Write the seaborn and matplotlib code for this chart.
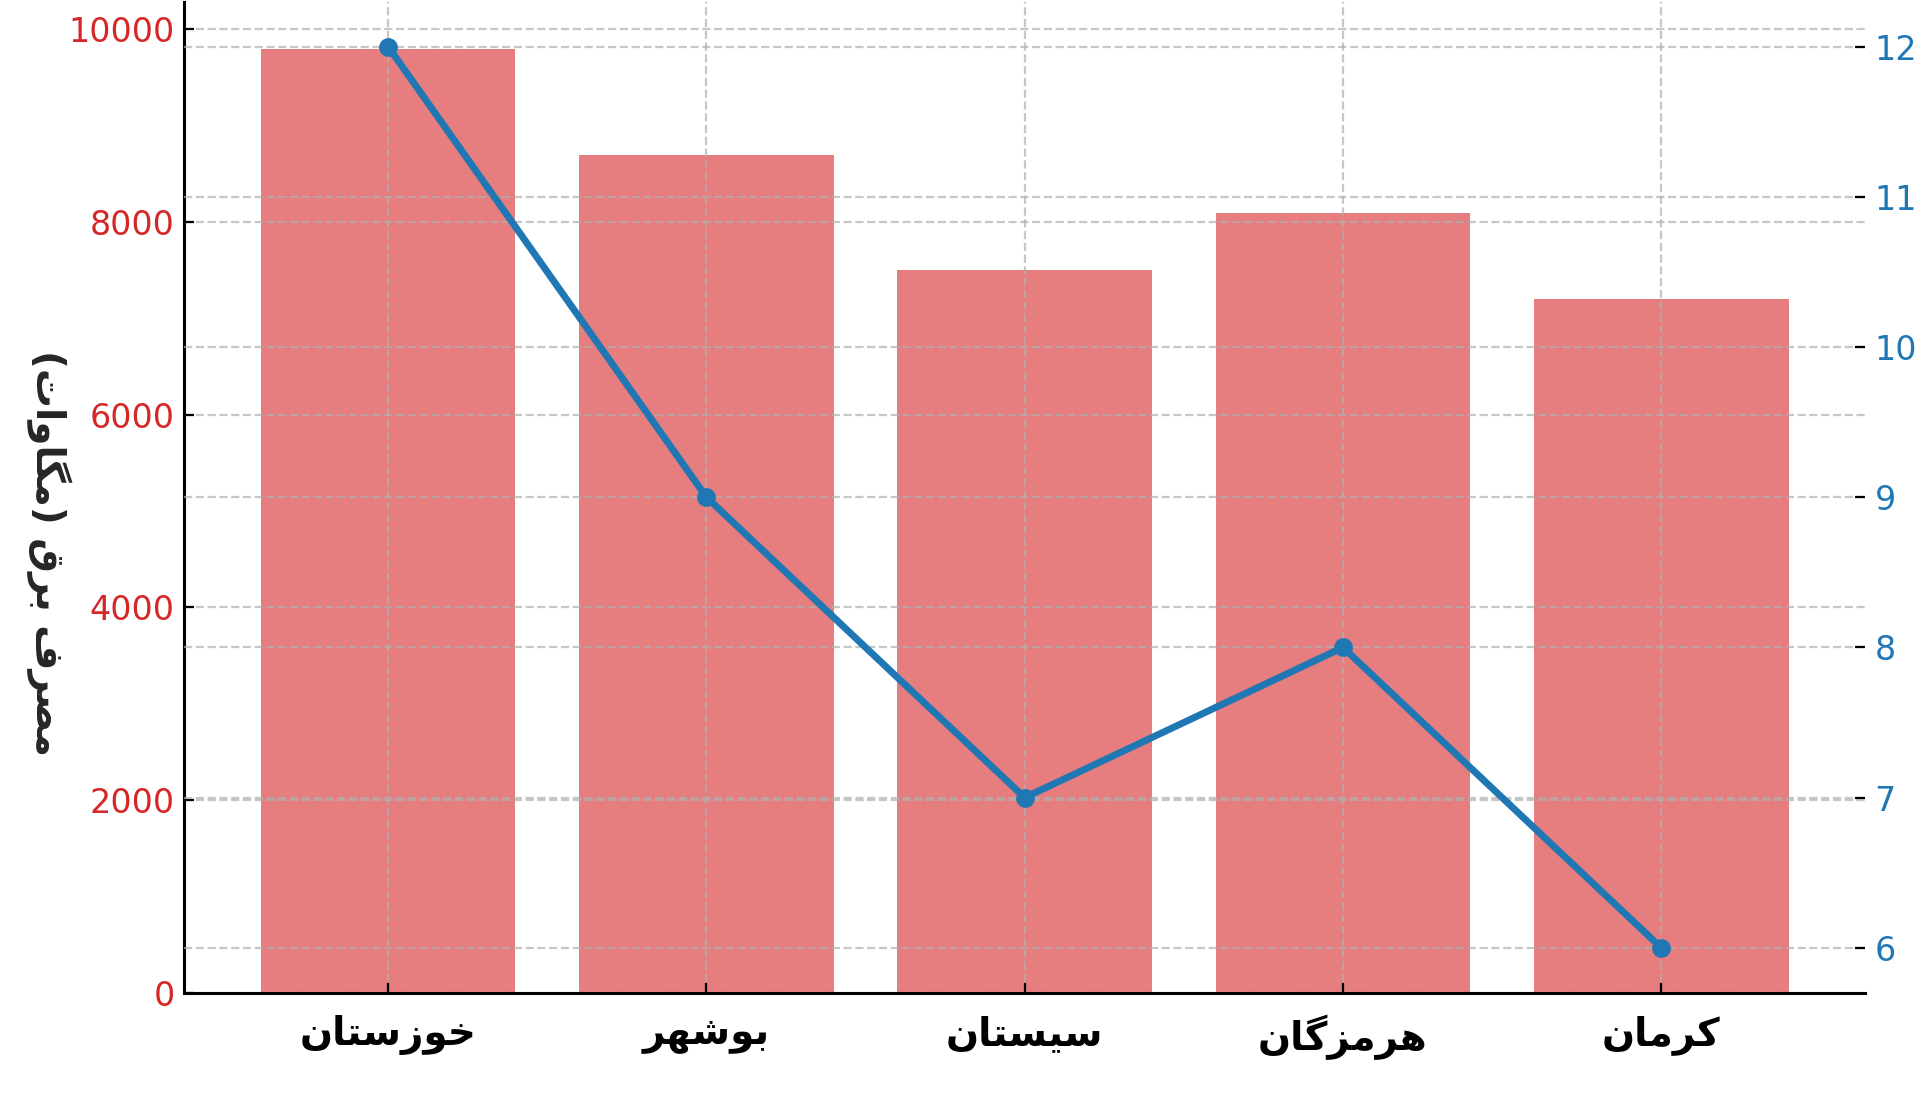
import numpy as np
import pandas as pd
import seaborn as sns
import matplotlib
matplotlib.use("Agg")
import matplotlib.pyplot as plt

provinces = ["خوزستان", "بوشهر", "سیستان", "هرمزگان", "کرمان"]
consumption = [9800, 8700, 7500, 8100, 7200]
temperature = [12, 9, 7, 8, 6]
left_label = "مصرف برق (مگاوات)"
left_ticks = [0, 2000, 4000, 6000, 8000, 10000]
right_ticks = [6, 7, 8, 9, 10, 11, 12]

# minimal arabic/persian shaping (isolated, final, initial, medial)
FORMS = {
    "ا": ("\uFE8D", "\uFE8E", None, None),
    "ب": ("\uFE8F", "\uFE90", "\uFE91", "\uFE92"),
    "ت": ("\uFE95", "\uFE96", "\uFE97", "\uFE98"),
    "خ": ("\uFEA5", "\uFEA6", "\uFEA7", "\uFEA8"),
    "ر": ("\uFEAD", "\uFEAE", None, None),
    "ز": ("\uFEAF", "\uFEB0", None, None),
    "س": ("\uFEB1", "\uFEB2", "\uFEB3", "\uFEB4"),
    "ش": ("\uFEB5", "\uFEB6", "\uFEB7", "\uFEB8"),
    "ص": ("\uFEB9", "\uFEBA", "\uFEBB", "\uFEBC"),
    "ف": ("\uFED1", "\uFED2", "\uFED3", "\uFED4"),
    "ق": ("\uFED5", "\uFED6", "\uFED7", "\uFED8"),
    "ک": ("\uFB8E", "\uFB8F", "\uFB90", "\uFB91"),
    "گ": ("\uFB92", "\uFB93", "\uFB94", "\uFB95"),
    "م": ("\uFEE1", "\uFEE2", "\uFEE3", "\uFEE4"),
    "ن": ("\uFEE5", "\uFEE6", "\uFEE7", "\uFEE8"),
    "ه": ("\uFEE9", "\uFEEA", "\uFEEB", "\uFEEC"),
    "و": ("\uFEED", "\uFEEE", None, None),
    "ی": ("\uFBFC", "\uFBFD", "\uFBFE", "\uFBFF"),
}
MIRROR = {"(": ")", ")": "("}


def shape(text):
    out = []
    for i, ch in enumerate(text):
        if ch not in FORMS:
            out.append(MIRROR.get(ch, ch))
            continue
        prev = text[i - 1] if i > 0 else ""
        nxt = text[i + 1] if i + 1 < len(text) else ""
        join_prev = prev in FORMS and FORMS[prev][2] is not None
        join_next = nxt in FORMS and FORMS[ch][2] is not None
        iso, fin, ini, med = FORMS[ch]
        if join_prev and join_next:
            out.append(med)
        elif join_prev:
            out.append(fin)
        elif join_next:
            out.append(ini)
        else:
            out.append(iso)
    return "".join(reversed(out))


sns.set_style("ticks")
plt.rcParams["font.family"] = ["DejaVu Sans"]
plt.rcParams["xtick.direction"] = "in"
plt.rcParams["ytick.direction"] = "in"

fig = plt.figure(figsize=(9.645, 5.525), dpi=200)
ax1 = fig.add_axes([0.0956, 0.1015, 0.8712, 0.8971])

df = pd.DataFrame({"province": provinces, "consumption": consumption})
sns.barplot(data=df, x="province", y="consumption", color="tab:red", alpha=0.6,
            saturation=1, width=0.8, linewidth=0, ax=ax1)
ax1.set_xlim(-0.64, 4.64)
ax1.set_ylim(0, 10290)
ax1.set_yticks(left_ticks)
ax1.set_xticks(range(len(provinces)))
ax1.set_xticklabels([shape(p) for p in provinces], fontsize=14, fontweight="bold", color="black")
ax1.set_xlabel("")
ax1.set_ylabel(shape(left_label), fontsize=14, fontweight="bold", rotation=270, va="center", ha="center")
ax1.yaxis.set_label_coords(-0.081, 0.444)
ax1.tick_params(axis="y", labelcolor="tab:red", labelsize=12, color="black", length=3.5)
ax1.tick_params(axis="x", color="black", length=3.5, pad=8)
ax1.grid(True, linestyle="--", color="#b0b0b0", alpha=0.7, lw=0.8)
ax1.set_axisbelow(False)
for s in ["top", "right"]:
    ax1.spines[s].set_visible(False)
for s in ["left", "bottom"]:
    ax1.spines[s].set_color("black")
    ax1.spines[s].set_linewidth(1.1)
    ax1.spines[s].set_zorder(5)

ax2 = ax1.twinx()
sns.lineplot(x=np.arange(len(provinces)), y=temperature, color="tab:blue", lw=2.5,
             marker="o", markersize=6, markeredgecolor="tab:blue", ax=ax2)
ax2.set_ylim(5.7, 12.3)
ax2.set_yticks(right_ticks)
ax2.set_xlim(-0.64, 4.64)
ax2.tick_params(axis="y", labelcolor="tab:blue", labelsize=12, color="black", length=3.5)
ax2.grid(True, axis="y", linestyle="--", color="#b0b0b0", alpha=0.7, lw=0.8)
for s in ax2.spines.values():
    s.set_visible(False)

fig.savefig("out.png", dpi=200)
